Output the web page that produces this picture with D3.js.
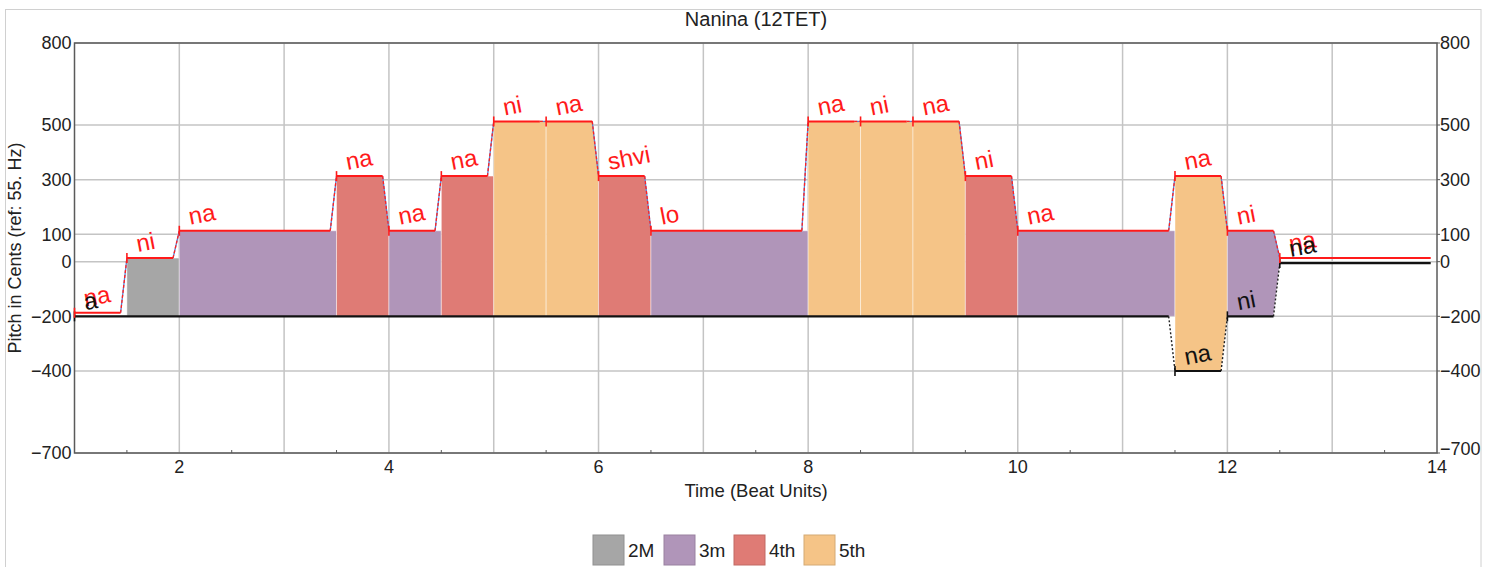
<!DOCTYPE html>
<html>
<head>
<meta charset="utf-8">
<script src="https://cdn.jsdelivr.net/npm/d3@7"></script>
<style>
  html, body { margin: 0; padding: 0; background: #fff; }
  svg { display: block; font-family: "Liberation Sans", Arial, sans-serif; }
</style>
</head>
<body>
<svg id="chart" width="1498" height="567"></svg>
<script>
// ---------- data ----------
const upperSyllables = ["na","ni","na","na","na","na","ni","na","shvi","lo","na","ni","na","ni","na","na","ni","na"];
const upperStarts    = [1, 1.5, 2, 3.5, 4, 4.5, 5, 5.5, 6, 6.5, 8, 8.5, 9, 9.5, 10, 11.5, 12, 12.5];
const upperPitches   = [-187, 13, 113, 313, 113, 313, 513, 513, 313, 113, 513, 513, 513, 313, 113, 313, 113, 13];

const lowerSyllables = ["a","na","ni","na"];
const lowerStarts    = [1, 11.5, 12, 12.5];
const lowerPitches   = [-200, -400, -200, -5];

const endTime = 14;

const intervalNames  = ["2M","3m","4th","5th"];
const intervalCents  = [200, 300, 500, 700];
const intervalColors = ["#a6a6a6", "#b095b9", "#df7b75", "#f5c487"];

const yTickValues = [800, 500, 300, 100, 0, -200, -400, -700];
const xTickLabels = [2, 4, 6, 8, 10, 12, 14];

const titleText = "Nanina (12TET)";
const xLabelText = "Time (Beat Units)";
const yLabelText = "Pitch in Cents (ref: 55. Hz)";

// ---------- setup ----------
const svg = d3.select("#chart");
const plot = {left: 74.5, right: 1437, top: 43, bottom: 453};
const x = d3.scaleLinear().domain([1, 14]).range([plot.left, plot.right]);
const y = d3.scaleLinear().domain([-700, 800]).range([plot.bottom, plot.top]);
const glide = 0.06; // beat units used for the transition between notes

// outer frame
svg.append("rect").attr("x", 5.5).attr("y", 9.5).attr("width", 1475.5).attr("height", 600)
  .attr("fill", "none").attr("stroke", "#d0d0d0").attr("stroke-width", 1);

// title
svg.append("text").attr("x", 756).attr("y", 26).attr("text-anchor", "middle")
  .attr("font-size", 20).attr("fill", "#222").text(titleText);

// grid
const gGrid = svg.append("g");
gGrid.selectAll("line.v").data(d3.range(2, 14)).join("line")
  .attr("x1", d => x(d)).attr("x2", d => x(d)).attr("y1", plot.top).attr("y2", plot.bottom)
  .attr("stroke", "#c4c4c4").attr("stroke-width", 1.5);
gGrid.selectAll("line.h").data(yTickValues).join("line")
  .attr("x1", plot.left).attr("x2", plot.right).attr("y1", d => y(d)).attr("y2", d => y(d))
  .attr("stroke", "#c4c4c4").attr("stroke-width", 1.5);

// voice helper
function voiceAt(starts, pitches, t) {
  let i = d3.bisectRight(starts, t) - 1;
  if (i < 0) i = 0;
  const nextStart = i + 1 < starts.length ? starts[i + 1] : null;
  if (nextStart !== null && t > nextStart - glide) {
    const f = (t - (nextStart - glide)) / glide;
    return pitches[i] + f * (pitches[i + 1] - pitches[i]);
  }
  return pitches[i];
}
const U = t => voiceAt(upperStarts, upperPitches, t);
const L = t => voiceAt(lowerStarts, lowerPitches, t);

// interval fills
const gFill = svg.append("g");
upperStarts.forEach((a, i) => {
  const b = i + 1 < upperStarts.length ? upperStarts[i + 1] : endTime;
  const top0 = upperPitches[i];
  const bot0 = L(a);
  const cents = Math.round((top0 - bot0) / 100) * 100;
  const k = intervalCents.indexOf(cents);
  if (k < 0) return;
  const last = i + 1 >= upperStarts.length;
  const ts = last ? [a, b] : [a, b - glide, b - 1e-9];
  const topPts = ts.map(t => [x(t), y(Math.min(U(t), top0))]);
  const botPts = ts.slice().reverse().map(t => [x(t), y(Math.max(L(t), bot0))]);
  gFill.append("path")
    .attr("d", d3.line()(topPts.concat(botPts)) + "Z")
    .attr("fill", intervalColors[k])
    .attr("stroke", "rgba(255,255,255,0.45)").attr("stroke-width", 1);
});

// axes frame
svg.append("rect").attr("x", plot.left).attr("y", plot.top)
  .attr("width", plot.right - plot.left).attr("height", plot.bottom - plot.top)
  .attr("fill", "none").attr("stroke", "#5a5a5a").attr("stroke-width", 1.5);

// minor bottom ticks
svg.append("g").selectAll("line").data(d3.range(1.5, 14, 1)).join("line")
  .attr("x1", d => x(d)).attr("x2", d => x(d)).attr("y1", plot.bottom).attr("y2", plot.bottom - 3)
  .attr("stroke", "#5a5a5a").attr("stroke-width", 1);

// axis tick labels
const gAx = svg.append("g").attr("font-size", 18).attr("fill", "#222");
gAx.selectAll("text.l").data(yTickValues).join("text")
  .attr("x", plot.left - 3).attr("y", d => y(d)).attr("dy", "0.35em")
  .attr("text-anchor", "end").text(d => d < 0 ? "\u2212" + Math.abs(d) : d);
gAx.selectAll("text.r").data(yTickValues).join("text")
  .attr("x", plot.right + 3).attr("y", d => y(d) - (d === -700 ? 4 : 0)).attr("dy", "0.35em")
  .attr("text-anchor", "start").text(d => d < 0 ? "\u2212" + Math.abs(d) : d);
gAx.selectAll("text.b").data(xTickLabels).join("text")
  .attr("x", d => x(d)).attr("y", 473).attr("text-anchor", "middle").text(d => d);

// side ticks
svg.append("g").selectAll("line").data(yTickValues).join("line")
  .attr("x1", plot.right).attr("x2", plot.right + 3).attr("y1", d => y(d)).attr("y2", d => y(d))
  .attr("stroke", "#5a5a5a");

svg.append("text").attr("x", 756).attr("y", 497).attr("text-anchor", "middle")
  .attr("font-size", 18.5).attr("fill", "#222").text(xLabelText);
svg.append("text").attr("transform", "translate(15,248) rotate(-90)")
  .attr("text-anchor", "middle").attr("dy", "0.35em")
  .attr("font-size", 18).attr("fill", "#222").text(yLabelText);

// voices
function drawVoice(starts, pitches, color, glideStyle, width) {
  const g = svg.append("g");
  starts.forEach((s, i) => {
    const e = i + 1 < starts.length ? starts[i + 1] : endTime;
    if (i + 1 < starts.length) {
      const gl = g.append("g");
      const seg = sel => sel.attr("x1", x(e - glide)).attr("y1", y(pitches[i]))
        .attr("x2", x(e)).attr("y2", y(pitches[i + 1]));
      if (glideStyle === "red") {
        gl.append("line").call(seg).attr("stroke", "#5b7fd0").attr("stroke-width", 1.3);
        gl.append("line").call(seg).attr("stroke", "#ff2020").attr("stroke-width", 1.3)
          .attr("stroke-dasharray", "3,2");
      } else {
        gl.append("line").call(seg).attr("stroke", "#222").attr("stroke-width", 1.4)
          .attr("stroke-dasharray", "2,2");
      }
    }
    g.append("line").attr("x1", x(s)).attr("x2", x(e - glide))
      .attr("y1", y(pitches[i])).attr("y2", y(pitches[i]))
      .attr("stroke", color).attr("stroke-width", width);
    g.append("line").attr("x1", x(s)).attr("x2", x(s))
      .attr("y1", y(pitches[i]) - 5).attr("y2", y(pitches[i]) + 5)
      .attr("stroke", color).attr("stroke-width", 1.6);
  });
}
drawVoice(lowerStarts, lowerPitches, "#111", "black", 2.2);
drawVoice(upperStarts, upperPitches, "#ff1a1a", "red", 2);

function drawLabels(starts, pitches, syllables, color) {
  svg.append("g").selectAll("text").data(syllables).join("text")
    .attr("transform", (d, i) => `translate(${x(starts[i]) + 11},${y(pitches[i]) - 6}) rotate(-11)`)
    .attr("font-size", 24).attr("fill", color).text(d => d);
}
drawLabels(upperStarts, upperPitches, upperSyllables, "#ff1a1a");
drawLabels(lowerStarts, lowerPitches, lowerSyllables, "#111");

// legend
const legendX = [593, 664, 734, 804];
const gLeg = svg.append("g");
intervalNames.forEach((n, k) => {
  gLeg.append("rect").attr("x", legendX[k]).attr("y", 535).attr("width", 31).attr("height", 30)
    .attr("fill", intervalColors[k]).attr("stroke", d3.color(intervalColors[k]).darker(0.4)).attr("stroke-width", 1);
  gLeg.append("text").attr("x", legendX[k] + 35).attr("y", 557)
    .attr("font-size", 19).attr("fill", "#222").text(n);
});
</script>
</body>
</html>
